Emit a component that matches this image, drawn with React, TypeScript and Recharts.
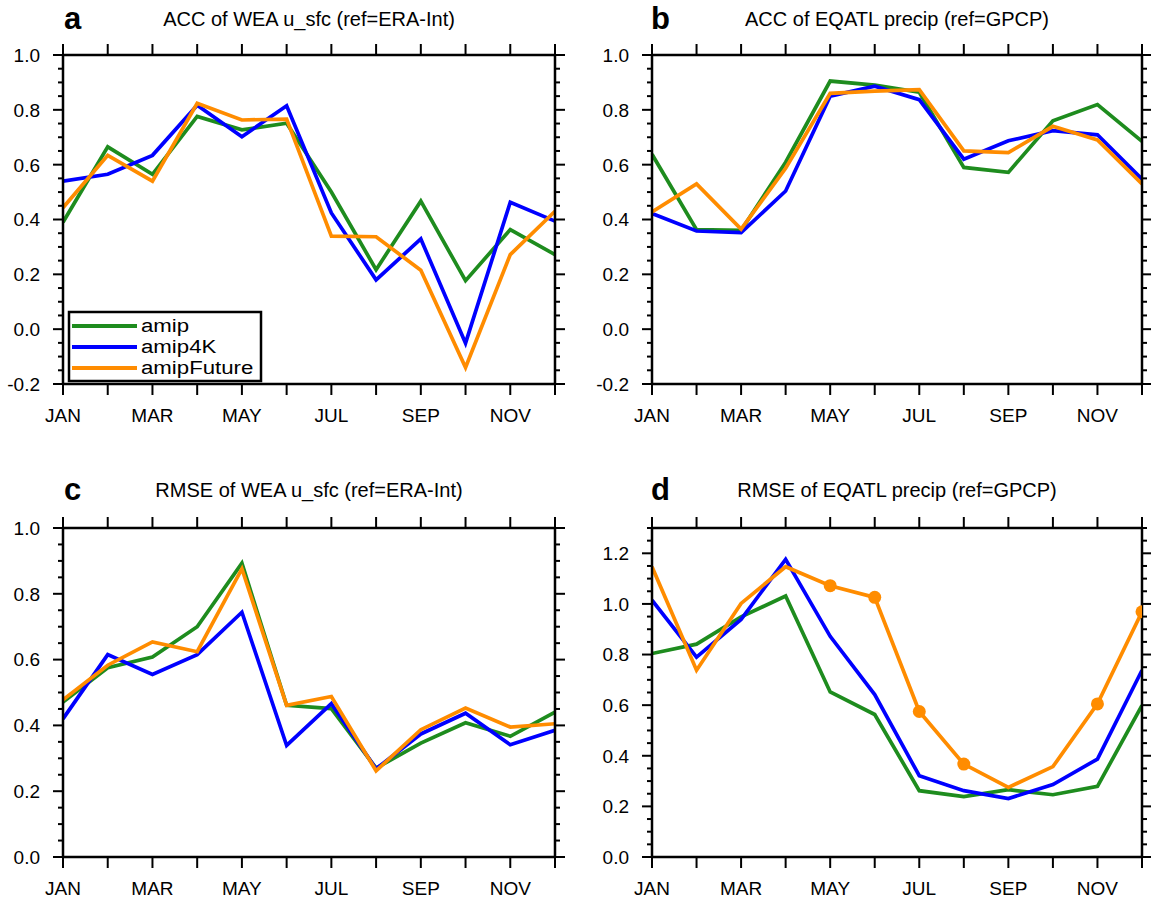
import React from 'react';
import { LineChart, Line, XAxis, YAxis } from 'recharts';

const months = ['JAN', 'FEB', 'MAR', 'APR', 'MAY', 'JUN', 'JUL', 'AUG', 'SEP', 'OCT', 'NOV', 'DEC'];
const monthTickLabels = ['JAN', '', 'MAR', '', 'MAY', '', 'JUL', '', 'SEP', '', 'NOV', ''];
const seriesNames = ['amip', 'amip4K', 'amipFuture'];

// Panel a: ACC of WEA u_sfc (ref=ERA-Int)
const accWeaAmip = [0.39, 0.665, 0.565, 0.776, 0.727, 0.751, 0.5, 0.217, 0.467, 0.177, 0.363, 0.272];
const accWeaAmip4K = [0.54, 0.565, 0.634, 0.817, 0.702, 0.815, 0.424, 0.18, 0.329, -0.051, 0.463, 0.394];
const accWeaFuture = [0.443, 0.634, 0.54, 0.824, 0.763, 0.766, 0.339, 0.337, 0.215, -0.14, 0.272, 0.43];

// Panel b: ACC of EQATL precip (ref=GPCP)
const accEqAmip = [0.638, 0.363, 0.36, 0.609, 0.905, 0.89, 0.864, 0.59, 0.572, 0.76, 0.819, 0.685];
const accEqAmip4K = [0.422, 0.358, 0.352, 0.504, 0.85, 0.886, 0.837, 0.62, 0.687, 0.724, 0.709, 0.547];
const accEqFuture = [0.428, 0.53, 0.365, 0.587, 0.86, 0.868, 0.874, 0.65, 0.644, 0.74, 0.69, 0.53];

// Panel c: RMSE of WEA u_sfc (ref=ERA-Int)
const rmseWeaAmip = [0.471, 0.575, 0.608, 0.7, 0.893, 0.461, 0.451, 0.27, 0.346, 0.408, 0.367, 0.44];
const rmseWeaAmip4K = [0.42, 0.615, 0.555, 0.615, 0.744, 0.339, 0.466, 0.268, 0.374, 0.437, 0.341, 0.385];
const rmseWeaFuture = [0.478, 0.583, 0.654, 0.624, 0.876, 0.461, 0.488, 0.262, 0.387, 0.453, 0.395, 0.405];

// Panel d: RMSE of EQATL precip (ref=GPCP)
const rmseEqAmip = [0.804, 0.841, 0.949, 1.031, 0.652, 0.563, 0.262, 0.239, 0.266, 0.246, 0.279, 0.599];
const rmseEqAmip4K = [1.015, 0.79, 0.939, 1.176, 0.872, 0.642, 0.321, 0.262, 0.231, 0.286, 0.387, 0.738];
const rmseEqFuture = [1.147, 0.738, 1.002, 1.147, 1.072, 1.026, 0.575, 0.367, 0.275, 0.357, 0.605, 0.969];
const rmseEqFutureMarked = [false, false, false, false, true, true, true, true, false, false, true, true];

const accMajorTicks = [-0.2, 0, 0.2, 0.4, 0.6, 0.8, 1.0];
const rmseWeaMajorTicks = [0, 0.2, 0.4, 0.6, 0.8, 1.0];
const rmseEqMajorTicks = [0, 0.2, 0.4, 0.6, 0.8, 1.0, 1.2];

const FONT = '"Liberation Sans", Arial, Helvetica, sans-serif';
const COLORS: Record<string, string> = { amip: '#1e8c1e', amip4K: '#0000ff', amipFuture: '#ff8c00' };
const monthIdx = months.map((_, i) => i);
const AX = 0.001; // near-zero axis thickness so the plot area is set by the margins

function minorTicks(lo: number, hi: number) {
  const out: number[] = [];
  for (let k = Math.round(lo / 0.05); k * 0.05 <= hi + 1e-9; k++) {
    if (k % 4 !== 0) out.push(+(k * 0.05).toFixed(2));
  }
  return out;
}

function buildRows(a: number[], b: number[], c: number[]) {
  return months.map((name, i) => ({ m: i, name, amip: a[i], amip4K: b[i], amipFuture: c[i] }));
}

const axisLine = { stroke: '#000', strokeWidth: 2.5 };

type Orient = 'left' | 'right' | 'top' | 'bottom';

function tickMark(orient: Orient, size: number, label?: (v: number) => string) {
  return (p: any) => {
    const { x, y, payload } = p;
    let line: React.ReactNode;
    if (orient === 'left') line = <line x1={x} x2={x + size} y1={y} y2={y} stroke="#000" strokeWidth={2} />;
    else if (orient === 'right') line = <line x1={x - size} x2={x} y1={y} y2={y} stroke="#000" strokeWidth={2} />;
    else if (orient === 'top') line = <line x1={x} x2={x} y1={y} y2={y + size} stroke="#000" strokeWidth={2} />;
    else line = <line x1={x} x2={x} y1={y - size} y2={y} stroke="#000" strokeWidth={2} />;
    let text: React.ReactNode = null;
    if (label) {
      const s = label(payload.value);
      if (orient === 'left')
        text = (
          <text x={x - 13} y={y} dy="0.36em" textAnchor="end" fontSize={19} fontFamily={FONT} fill="#000">
            {s}
          </text>
        );
      else if (orient === 'bottom')
        text = (
          <text x={x} y={y + 14} dy="0.71em" textAnchor="middle" fontSize={19} fontFamily={FONT} fill="#000">
            {s}
          </text>
        );
    }
    return (
      <g>
        {line}
        {text}
      </g>
    );
  };
}

type PanelProps = {
  left: number;
  top: number;
  width: number;
  height: number;
  margin: { top: number; left: number; right: number; bottom: number };
  domain: [number, number];
  major: number[];
  rows: any[];
  marked?: boolean[];
};

function Panel({ left, top, width, height, margin, domain, major, rows, marked }: PanelProps) {
  const minor = minorTicks(domain[0], domain[1]);
  const common = { type: 'number' as const, interval: 0 as const, allowDataOverflow: true, tickLine: false, tickMargin: 0 };
  return (
    <div style={{ position: 'absolute', left, top, width, height }}>
      <LineChart width={width} height={height} data={rows} margin={margin} style={{ overflow: 'visible' }}>
        <XAxis
          {...common}
          xAxisId="B"
          dataKey="m"
          domain={[0, 11]}
          ticks={monthIdx}
          height={AX}
          tickSize={11}
          axisLine={axisLine}
          tick={tickMark('bottom', 11, (v) => monthTickLabels[v])}
        />
        <XAxis
          {...common}
          xAxisId="T"
          orientation="top"
          domain={[0, 11]}
          ticks={monthIdx}
          height={AX}
          tickSize={11}
          axisLine={axisLine}
          tick={tickMark('top', 11)}
        />
        <YAxis
          {...common}
          yAxisId="L"
          domain={domain}
          ticks={major}
          width={AX}
          tickSize={10}
          axisLine={axisLine}
          tick={tickMark('left', 10, (v) => v.toFixed(1))}
        />
        <YAxis
          {...common}
          yAxisId="Lm"
          domain={domain}
          ticks={minor}
          width={AX}
          tickSize={5}
          axisLine={false}
          tick={tickMark('left', 5)}
        />
        <YAxis
          {...common}
          yAxisId="R"
          orientation="right"
          domain={domain}
          ticks={major}
          width={AX}
          tickSize={10}
          axisLine={axisLine}
          tick={tickMark('right', 10)}
        />
        <YAxis
          {...common}
          yAxisId="Rm"
          orientation="right"
          domain={domain}
          ticks={minor}
          width={AX}
          tickSize={5}
          axisLine={false}
          tick={tickMark('right', 5)}
        />
        {seriesNames.map((s) => (
          <Line
            key={s}
            xAxisId="B"
            yAxisId="L"
            type="linear"
            dataKey={s}
            stroke={COLORS[s]}
            strokeWidth={3.7}
            strokeLinejoin="miter"
            isAnimationActive={false}
            dot={
              s === 'amipFuture' && marked
                ? (p: any) =>
                    marked[p.index] ? (
                      <circle key={`d${p.index}`} cx={p.cx} cy={p.cy} r={6.5} fill={COLORS[s]} stroke="none" />
                    ) : (
                      <g key={`d${p.index}`} />
                    )
                : false
            }
            activeDot={false}
          />
        ))}
      </LineChart>
    </div>
  );
}

const titles = [
  { letter: 'a', text: 'ACC of WEA u_sfc (ref=ERA-Int)', lx: 64, cx: 309, y: 29 },
  { letter: 'b', text: 'ACC of EQATL precip (ref=GPCP)', lx: 651, cx: 897, y: 29 },
  { letter: 'c', text: 'RMSE of WEA u_sfc (ref=ERA-Int)', lx: 64, cx: 309, y: 500 },
  { letter: 'd', text: 'RMSE of EQATL precip (ref=GPCP)', lx: 651, cx: 897, y: 500 },
];

export default function App() {
  return (
    <div
      style={{
        position: 'absolute',
        left: 0,
        top: 0,
        width: 1151,
        height: 905,
        background: '#fff',
        overflow: 'hidden',
        fontFamily: FONT,
      }}
    >
      <Panel
        left={0}
        top={0}
        width={580}
        height={450}
        margin={{ top: 55, left: 63, right: 25, bottom: 66 }}
        domain={[-0.2, 1.0]}
        major={accMajorTicks}
        rows={buildRows(accWeaAmip, accWeaAmip4K, accWeaFuture)}
      />
      <Panel
        left={580}
        top={0}
        width={571}
        height={450}
        margin={{ top: 55, left: 72, right: 9, bottom: 66 }}
        domain={[-0.2, 1.0]}
        major={accMajorTicks}
        rows={buildRows(accEqAmip, accEqAmip4K, accEqFuture)}
      />
      <Panel
        left={0}
        top={470}
        width={580}
        height={435}
        margin={{ top: 58, left: 63, right: 25, bottom: 48 }}
        domain={[0, 1.0]}
        major={rmseWeaMajorTicks}
        rows={buildRows(rmseWeaAmip, rmseWeaAmip4K, rmseWeaFuture)}
      />
      <Panel
        left={580}
        top={470}
        width={571}
        height={435}
        margin={{ top: 58, left: 72, right: 9, bottom: 48 }}
        domain={[0, 1.3]}
        major={rmseEqMajorTicks}
        rows={buildRows(rmseEqAmip, rmseEqAmip4K, rmseEqFuture)}
        marked={rmseEqFutureMarked}
      />
      <svg
        width={1151}
        height={905}
        style={{ position: 'absolute', left: 0, top: 0, pointerEvents: 'none' }}
      >
        {titles.map((t) => (
          <g key={t.letter}>
            <text x={t.lx} y={t.y} fontSize={31} fontWeight="bold" fontFamily={FONT} fill="#000">
              {t.letter}
            </text>
            <text x={t.cx} y={t.y - 3} fontSize={20} textAnchor="middle" fontFamily={FONT} fill="#000">
              {t.text}
            </text>
          </g>
        ))}
        <rect x={69} y={312} width={192} height={69} fill="#fff" stroke="#000" strokeWidth={2.5} />
        {seriesNames.map((s, i) => (
          <g key={s}>
            <line x1={72} x2={137} y1={326 + i * 21} y2={326 + i * 21} stroke={COLORS[s]} strokeWidth={4} />
            <g transform={`translate(141, ${332 + i * 21}) scale(1.17, 1)`}>
              <text x={0} y={0} fontSize={19} fontFamily={FONT} fill="#000">
                {s}
              </text>
            </g>
          </g>
        ))}
      </svg>
    </div>
  );
}
